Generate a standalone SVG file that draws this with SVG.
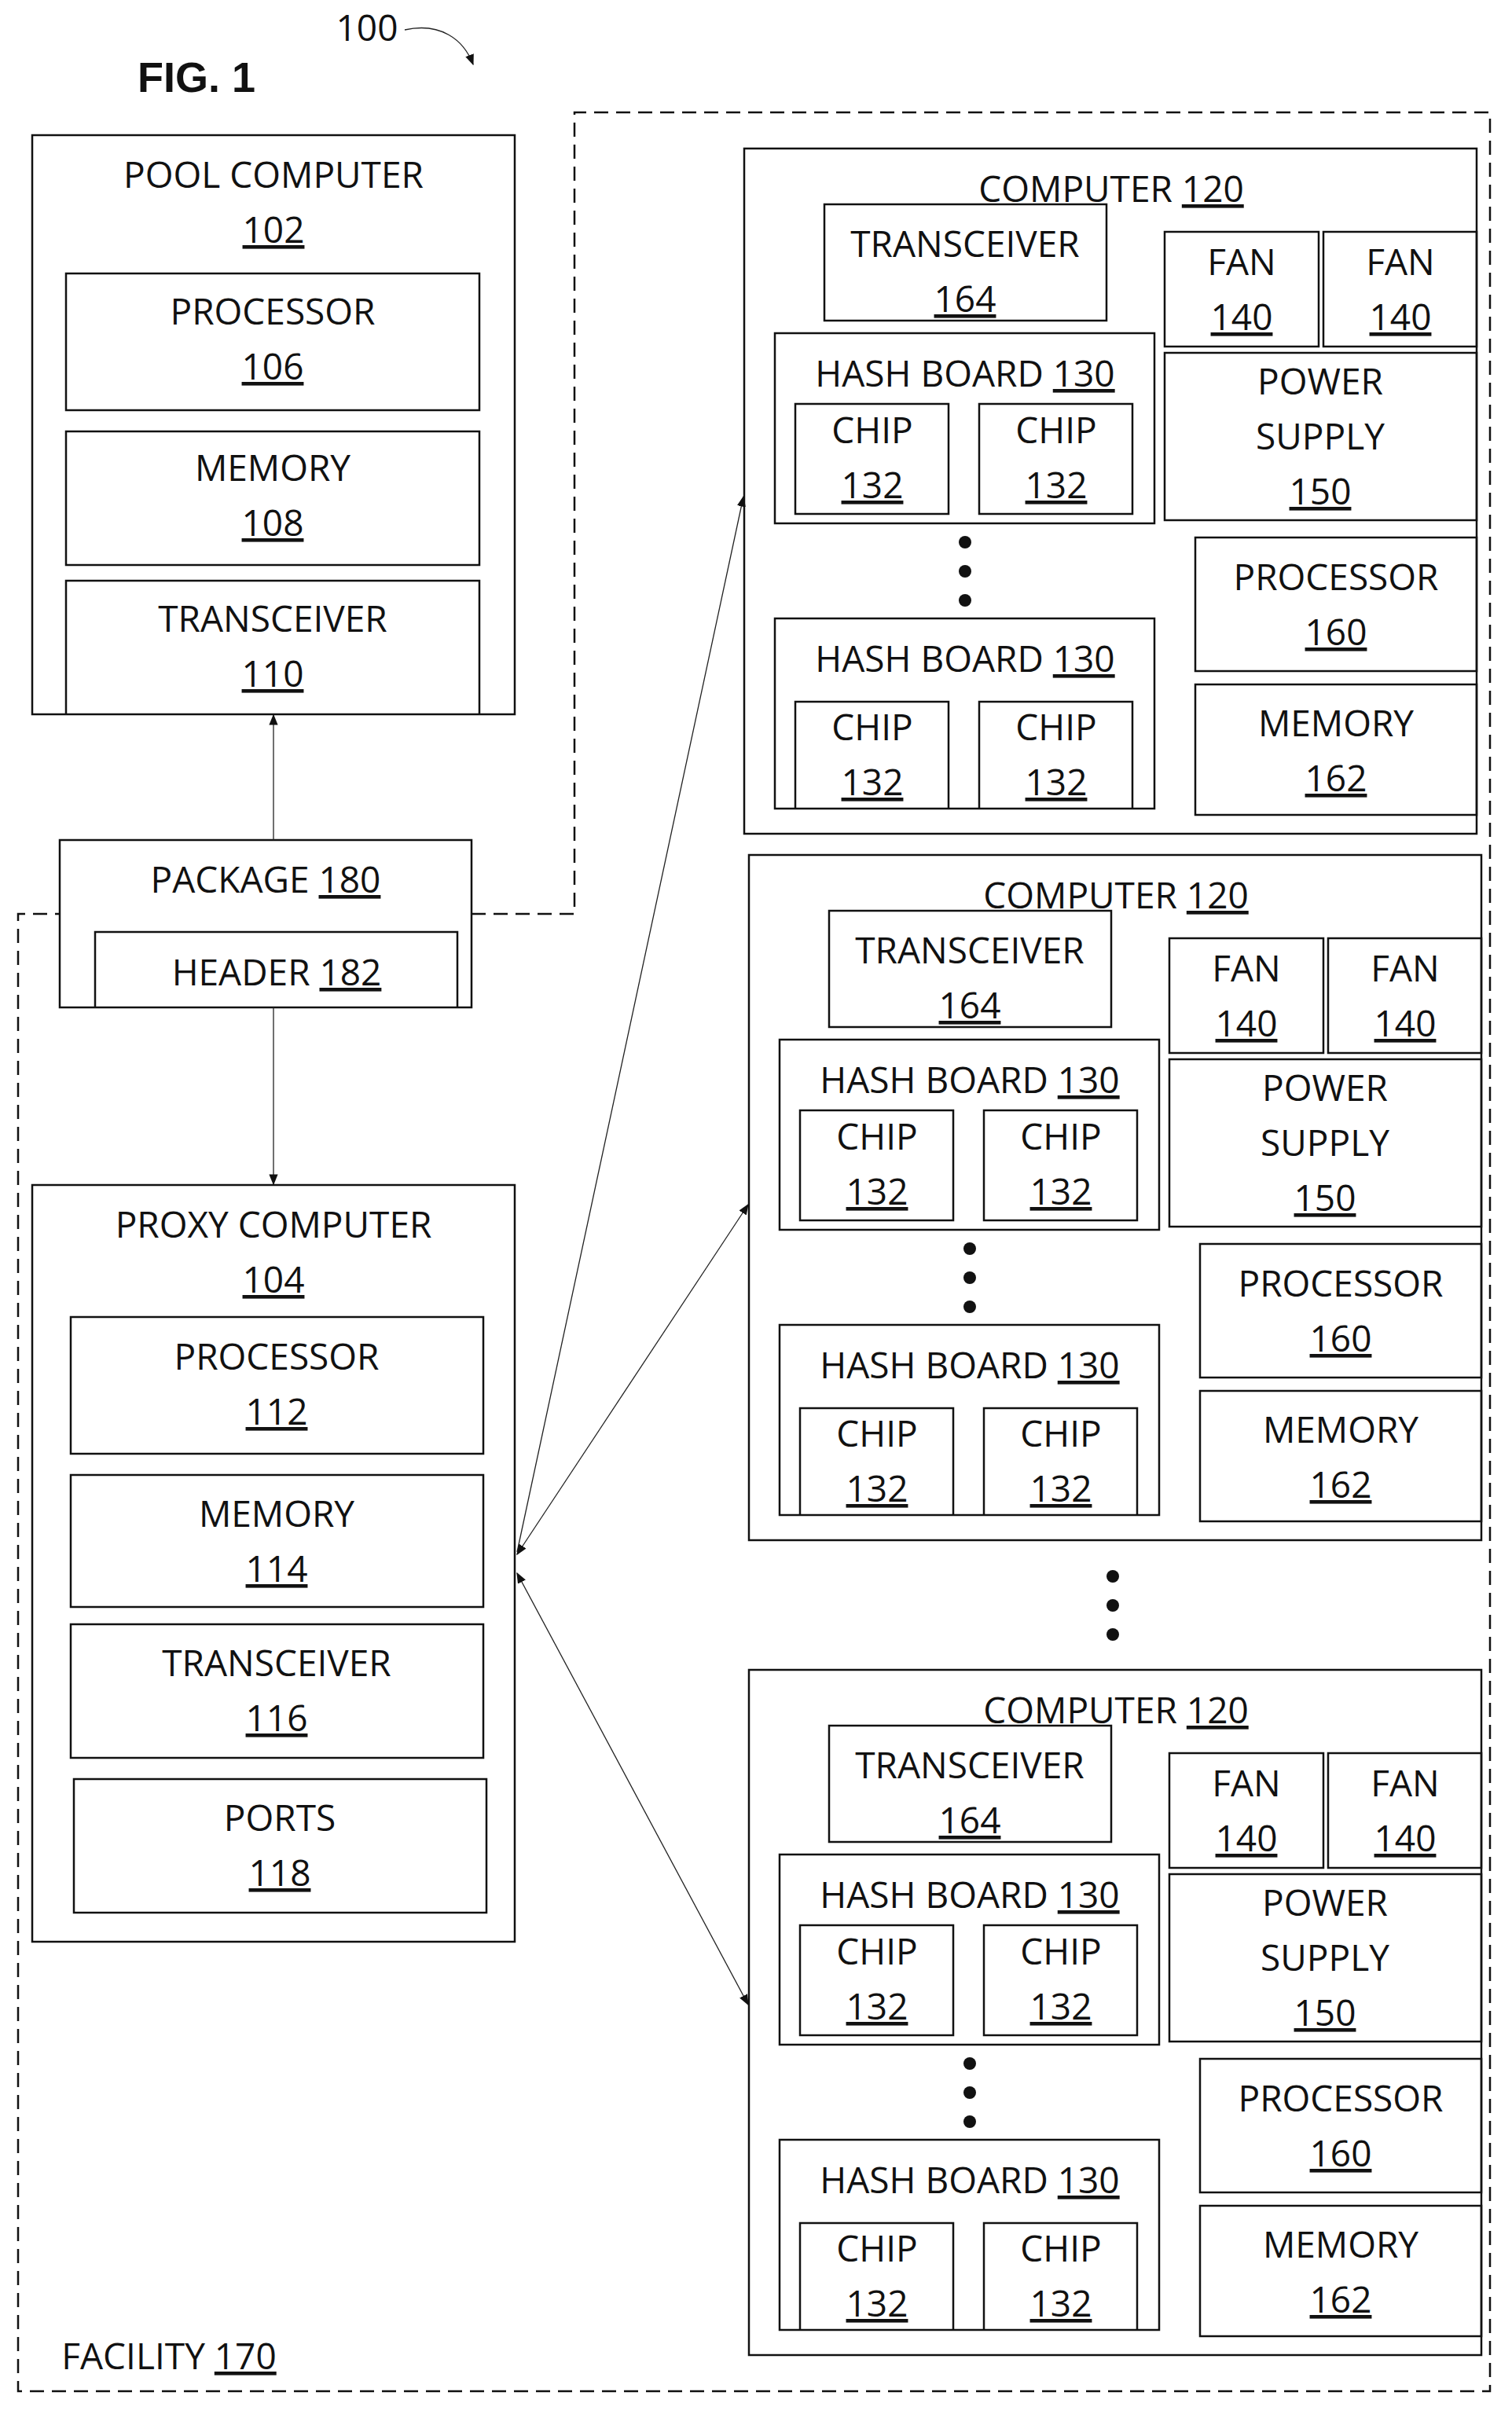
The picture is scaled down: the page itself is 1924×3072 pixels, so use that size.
<svg xmlns="http://www.w3.org/2000/svg" width="1924" height="3072" viewBox="0 0 1924 3072">
<style>
rect{fill:none;stroke:#111;stroke-width:2.5}
text{font-family:"Open Sans","Liberation Sans",sans-serif;font-size:46px;fill:#111;text-anchor:middle}
.u{text-decoration:underline}
.dash{fill:none;stroke:#111;stroke-width:2.5;stroke-dasharray:18,10}
.ln{fill:none;stroke:#222;stroke-width:1.3}
.dot{fill:#111}
</style>
<defs>
<marker id="ah" viewBox="0 0 10 10" refX="9" refY="5" markerWidth="14" markerHeight="14" markerUnits="userSpaceOnUse" orient="auto-start-reverse"><path d="M0,1 L10,5 L0,9 Z" fill="#111"/></marker>
</defs>
<g id="title">
<text x="250" y="117" style="font-weight:bold;font-size:54px;font-family:'Liberation Sans',sans-serif">FIG. 1</text>
<text x="467" y="52">100</text>
<path d="M515,38 C560,28 590,50 602,82" class="ln" marker-end="url(#ah)"/>
</g>
<g id="facility">
<path class="dash" d="M600,1163 H731 V143 H1896 V3043 H23 V1163 H76"/>
<text x="215" y="3015" style="text-anchor:middle">FACILITY <tspan class="u">170</tspan></text>
</g>
<g id="pool">
<rect x="41" y="172" width="614" height="737"/>
<text x="348" y="239">POOL COMPUTER</text><text x="348" y="309" class="u">102</text>
<rect x="84" y="348" width="526" height="174"/><text x="347" y="413">PROCESSOR</text><text x="347" y="483" class="u">106</text>
<rect x="84" y="549" width="526" height="170"/><text x="347" y="612">MEMORY</text><text x="347" y="682" class="u">108</text>
<path d="M84,909 V739 H610 V909" style="fill:none;stroke:#111;stroke-width:2.5"/><text x="347" y="804">TRANSCEIVER</text><text x="347" y="874" class="u">110</text>
</g>
<g id="package">
<rect x="76" y="1069" width="524" height="213"/>
<text x="338" y="1136">PACKAGE <tspan class="u">180</tspan></text>
<path d="M121,1282 V1186 H582 V1282" style="fill:none;stroke:#111;stroke-width:2.5"/>
<text x="352" y="1254">HEADER <tspan class="u">182</tspan></text>
</g>
<g id="proxy">
<rect x="41" y="1508" width="614" height="963"/>
<text x="348" y="1575">PROXY COMPUTER</text><text x="348" y="1645" class="u">104</text>
<rect x="90" y="1676" width="525" height="174"/><text x="352" y="1743">PROCESSOR</text><text x="352" y="1813" class="u">112</text>
<rect x="90" y="1877" width="525" height="168"/><text x="352" y="1943">MEMORY</text><text x="352" y="2013" class="u">114</text>
<rect x="90" y="2067" width="525" height="170"/><text x="352" y="2133">TRANSCEIVER</text><text x="352" y="2203" class="u">116</text>
<rect x="94" y="2264" width="525" height="170"/><text x="356" y="2330">PORTS</text><text x="356" y="2400" class="u">118</text>
</g>
<defs>
<g id="comp">
<rect x="947" y="189" width="932" height="872"/>
<text x="1414" y="257">COMPUTER  <tspan class="u">120</tspan></text>
<rect x="1049" y="260" width="359" height="148"/><text x="1228" y="327">TRANSCEIVER</text><text x="1228" y="397" class="u">164</text>
<rect x="1482" y="295" width="196" height="146"/><text x="1580" y="350">FAN</text><text x="1580" y="420" class="u">140</text>
<rect x="1684" y="295" width="195" height="146"/><text x="1782" y="350">FAN</text><text x="1782" y="420" class="u">140</text>
<rect x="1482" y="449" width="397" height="213"/><text x="1680" y="502">POWER</text><text x="1680" y="572">SUPPLY</text><text x="1680" y="642" class="u">150</text>
<rect x="1521" y="684" width="358" height="170"/><text x="1700" y="751">PROCESSOR</text><text x="1700" y="821" class="u">160</text>
<rect x="1521" y="871" width="358" height="166"/><text x="1700" y="937">MEMORY</text><text x="1700" y="1007" class="u">162</text>
<rect x="986" y="424" width="483" height="242"/><text x="1228" y="492">HASH BOARD <tspan class="u">130</tspan></text>
<rect x="1012" y="514" width="195" height="140"/><text x="1110" y="564">CHIP</text><text x="1110" y="634" class="u">132</text>
<rect x="1246" y="514" width="195" height="140"/><text x="1344" y="564">CHIP</text><text x="1344" y="634" class="u">132</text>
<circle class="dot" cx="1228" cy="690" r="8"/><circle class="dot" cx="1228" cy="727" r="8"/><circle class="dot" cx="1228" cy="764" r="8"/>
<rect x="986" y="787" width="483" height="242"/><text x="1228" y="855">HASH BOARD <tspan class="u">130</tspan></text>
<path d="M1012,1029 V893 H1207 V1029 M1246,1029 V893 H1441 V1029" style="fill:none;stroke:#111;stroke-width:2.5"/>
<text x="1110" y="942">CHIP</text><text x="1110" y="1012" class="u">132</text>
<text x="1344" y="942">CHIP</text><text x="1344" y="1012" class="u">132</text>
</g>
</defs>
<g id="computer1"><use href="#comp"/></g>
<g id="computer2"><use href="#comp" transform="translate(6,899)"/></g>
<g id="computer3"><use href="#comp" transform="translate(6,1936)"/></g>
<g id="dots">
<circle class="dot" cx="1416" cy="2006" r="8"/><circle class="dot" cx="1416" cy="2043" r="8"/><circle class="dot" cx="1416" cy="2080" r="8"/>
</g>
<g id="connectors">
<line class="ln" x1="348" y1="1069" x2="348" y2="910" marker-end="url(#ah)"/>
<line class="ln" x1="348" y1="1282" x2="348" y2="1507" marker-end="url(#ah)"/>
<line class="ln" x1="658" y1="1975" x2="946" y2="632" marker-end="url(#ah)"/>
<line class="ln" x1="658" y1="1978" x2="952" y2="1533" marker-start="url(#ah)" marker-end="url(#ah)"/>
<line class="ln" x1="658" y1="2002" x2="952" y2="2551" marker-start="url(#ah)" marker-end="url(#ah)"/>
</g>
</svg>
